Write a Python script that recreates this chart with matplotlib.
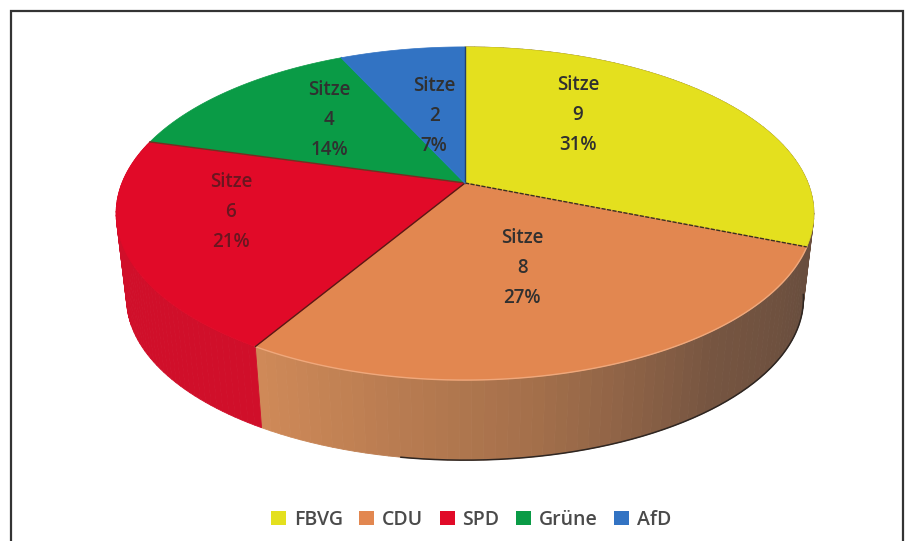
import numpy as np
import matplotlib
matplotlib.use('Agg')
import matplotlib.pyplot as plt
from matplotlib.patches import Polygon, Patch

# seats per party, clockwise from 12 o'clock
parties = ['FBVG', 'CDU', 'SPD', 'Grüne', 'AfD']
seats = [9, 8, 6, 4, 2]
percent = ['31%', '27%', '21%', '14%', '7%']
colors = ['#e4e01e', '#e28750', '#e10a28', '#0a9b46', '#3273c3']

label_x = [578, 522, 231, 329, 434]
label_y = [115, 268, 212, 120, 116]

# perspective of the disc
CX, CY = 465, 183
SX, SY = 343, 161
K = 0.183
DEPTH = 86
BASE = 0.97


def top_pt(theta):
    x, y = np.sin(theta), np.cos(theta)
    w = 1 + K*y
    return CX + SX*x/w, CY - SY*y/w


def base_pt(theta):
    x, y = np.sin(theta), np.cos(theta)
    w = 1 + K*y
    return CX + BASE*SX*x/w, CY + DEPTH - BASE*SY*y/w


def side_color(i, t):
    if i == 1:
        stops = [0, .3, .6, 1]
        rgb = [[105, 78, 62], [118, 85, 65], [165, 112, 75], [208, 138, 88]]
        return [np.interp(t, stops, [c[j] for c in rgb])/255 for j in range(3)]
    if i == 2:
        return '#d00f2a'
    return '#6a4e3e' if i == 0 else colors[i]


fig = plt.figure(figsize=(9.08, 5.41), dpi=100)
ax = fig.add_axes([0, 0, 1, 1])
ax.set_xlim(0, 908)
ax.set_ylim(541, 0)
ax.axis('off')

# frame is open at the bottom
ax.plot([11, 11, 903, 903], [541, 11, 11, 541], color='#333333', lw=1.6, solid_joinstyle='miter')

edges = 2*np.pi*np.cumsum([0] + seats)/sum(seats)

# side wall first, top surface over it
for i in range(3):
    steps = np.linspace(edges[i], edges[i+1], 60)
    for n in range(len(steps)-1):
        a, b = steps[n], steps[n+1]
        quad = [top_pt(a), top_pt(b), base_pt(b), base_pt(a)]
        c = side_color(i, (n + .5)/(len(steps)-1))
        ax.add_patch(Polygon(quad, closed=True, fc=c, ec=c, lw=.6))

# dark rim on the shaded part of the wall
rim = np.linspace(edges[1] - .22, edges[1] + 1.35, 150)
ax.plot(*zip(*[base_pt(t) for t in rim]), color='#2e2622', lw=1.1)

for i in range(len(seats)):
    th = np.linspace(edges[i], edges[i+1], 120)
    pts = [(CX, CY)] + [top_pt(t) for t in th]
    ax.add_patch(Polygon(pts, closed=True, fc=colors[i], ec=colors[i], lw=.5))

# light highlight where the orange top meets the wall
th = np.linspace(edges[1], edges[2], 120)
ax.plot(*zip(*[top_pt(t) for t in th]), color='#efa87c', lw=1)

# slice borders
border = ['#23406a', '#3a3020', '#5a1a14', '#7a2a20', '#2f78c8']
for i in range(len(seats)):
    p = top_pt(edges[i])
    ax.plot([CX, p[0]], [CY, p[1]], color=border[i], lw=1,
            ls=(0, (3, 1)) if i == 1 else '-')

for i in range(len(seats)):
    txt = 'Sitze\n%d\n%s' % (seats[i], percent[i])
    c = '#6a1620' if i == 2 else '#303030'
    ax.text(label_x[i], label_y[i], txt, ha='center', va='center', fontsize=13.5,
            family='Open Sans', weight='semibold', color=c, linespacing=1.65)

handles = [Patch(fc=c, ec='none') for c in colors]
ax.legend(handles, parties, ncol=5, frameon=False, loc='center',
          bbox_to_anchor=(471/908, 1 - 520/541), prop={'family': 'Open Sans', 'size': 14, 'weight': 'semibold'},
          labelcolor='#4a4a4a', handlelength=.77, handleheight=.77, handletextpad=.4, columnspacing=.85)

fig.savefig('out.png', dpi=100)
